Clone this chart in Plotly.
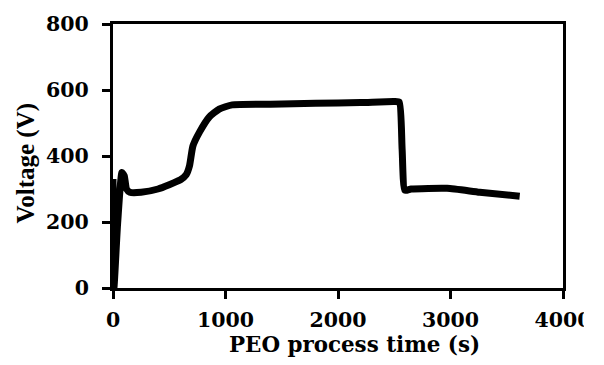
import plotly.graph_objects as go

# PEO voltage-time transient
time_s = [0, 8, 40, 80, 100, 120, 150, 250, 400, 500, 600, 650, 680, 710, 770,
          855, 944, 1060, 1400, 1800, 2200, 2500, 2545, 2570, 2595, 2650, 2970,
          3260, 3615]
voltage_v = [330, 0, 190, 350, 340, 300, 290, 290, 300, 313, 328, 343, 370, 430, 473,
             518, 542, 555, 557, 560, 562, 565, 563, 420, 296, 300, 302,
             290, 278]

x_ticks = [0, 1000, 2000, 3000, 4000]
y_ticks = [0, 200, 400, 600, 800]

wide_serif = "DejaVu Serif"
tick_font = dict(family=wide_serif, size=20.5, color="black")

fig = go.Figure()
fig.add_trace(go.Scatter(
    x=time_s, y=voltage_v, mode="lines",
    line=dict(color="black", width=7, shape="spline", smoothing=0.5),
    showlegend=False, hoverinfo="skip",
))

axis_common = dict(
    showgrid=False, zeroline=False, showline=True, linecolor="black",
    linewidth=3, mirror=True, ticks="outside", ticklen=8, tickwidth=3,
    tickcolor="black", tickfont=tick_font,
)

fig.update_xaxes(range=[0, 4000], tickvals=x_ticks,
                 ticktext=[f"<b>{v}</b>" for v in x_ticks],
                 ticklabelstandoff=3, **axis_common)
fig.update_yaxes(range=[0, 800], tickvals=y_ticks,
                 ticktext=[f"<b>{v}</b>" for v in y_ticks],
                 ticklabelstandoff=9, **axis_common)

fig.add_annotation(text="<b>PEO process time (s)</b>", xref="paper", yref="paper",
                   x=0.537, y=-0.214, xanchor="center", yanchor="middle",
                   showarrow=False, font=dict(family=wide_serif, size=21.4, color="black"))
fig.add_annotation(text="<b>Voltage (V)</b>", xref="paper", yref="paper",
                   x=-0.194, y=0.474, xanchor="center", yanchor="middle",
                   textangle=-90, showarrow=False,
                   font=dict(family="Liberation Serif", size=25, color="black"))

# the right-most tick label runs off the edge of the figure
fig.add_shape(type="rect", xref="paper", yref="paper", x0=1.0463, x1=1.2,
              y0=-0.22, y1=-0.03, fillcolor="white", line=dict(width=0),
              layer="above")

fig.update_layout(
    width=604, height=365,
    margin=dict(l=113, r=37, t=18, b=77),
    paper_bgcolor="white", plot_bgcolor="white",
)

fig.write_html("out.html")
